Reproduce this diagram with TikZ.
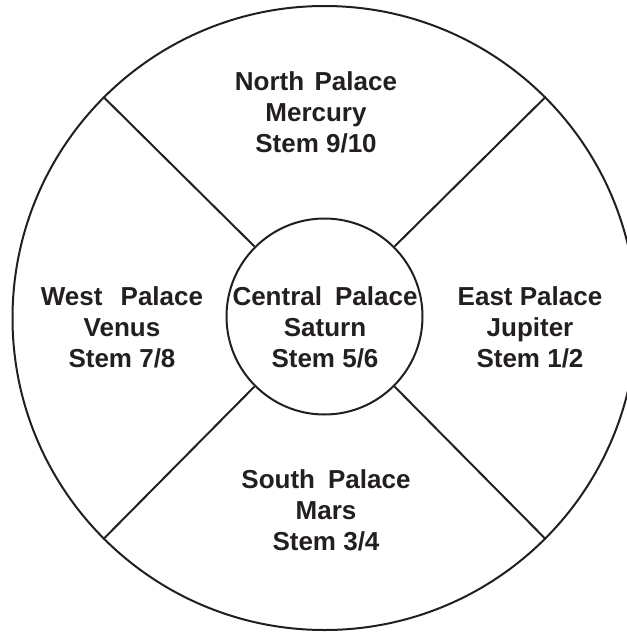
\documentclass[tikz,border=0pt]{standalone}
\usepackage{fontspec}
\setmainfont{Liberation Sans}
\definecolor{ink}{HTML}{231F20}
\begin{document}
\begin{tikzpicture}[x=0.75pt,y=-0.75pt,
  ring/.style={draw=ink, circle, line width=1.5pt, inner sep=0pt},
  spoke/.style={draw=ink, line width=1.5pt},
  lbl/.style={font=\bfseries\fontsize{19.5}{23.25}\selectfont, align=center, text=ink, inner sep=0pt}]
\useasboundingbox (0,0) rectangle (626,632);
\node[ring, minimum size=468pt] (outer) at (324.5,318) {};
\node[ring, minimum size=147pt] (inner) at (324.5,316.5) {};
\draw[spoke] (inner.45) -- (outer.45);
\draw[spoke] (inner.135) -- (outer.135);
\draw[spoke] (inner.225) -- (outer.225);
\draw[spoke] (inner.315) -- (outer.315);
\node[lbl] (north) at (316,112) {North\hspace{0.4em}Palace\\Mercury\\Stem 9/10};
\node[lbl] (west) at (122,327) {West\hspace{0.7em}Palace\\Venus\\Stem 7/8};
\node[lbl] (central) at (325,327) {Central\hspace{0.5em}Palace\\Saturn\\Stem 5/6};
\node[lbl] (east) at (530,327) {East Palace\\Jupiter\\Stem 1/2};
\node[lbl] (south) at (326,510) {South\hspace{0.5em}Palace\\Mars\\Stem 3/4};
\end{tikzpicture}
\end{document}
